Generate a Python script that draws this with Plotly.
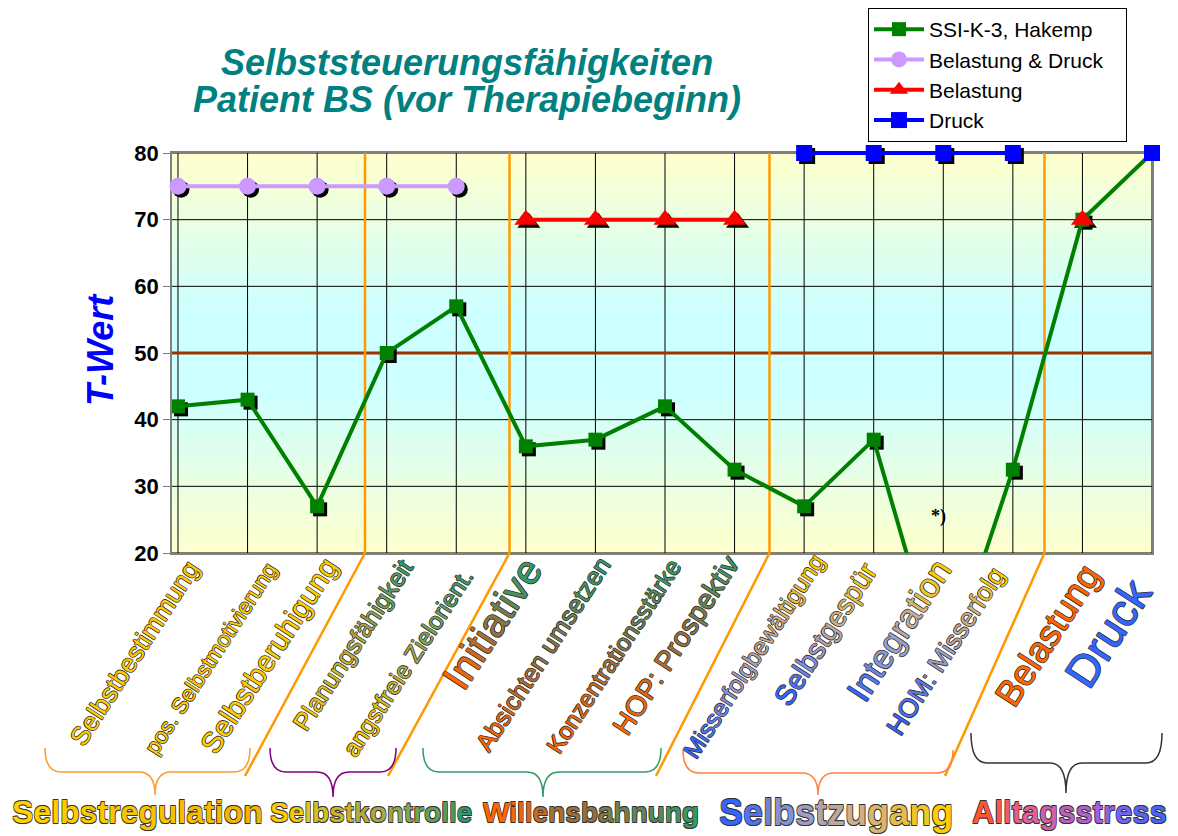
import plotly.graph_objects as go

# ---------------- data ----------------
categories = [
    "Selbstbestimmung", "pos. Selbstmotivierung", "Selbstberuhigung",
    "Planungsfähigkeit", "angstfreie Zielorient.",
    "Initiative", "Absichten umsetzen", "Konzentrationsstärke", "HOP: Prospektiv",
    "Misserfolgbewältigung", "Selbstgespür", "Integration", "HOM: Misserfolg",
    "Belastung", "Druck",
]
ssi_k3 = [42, 43, 27, 50, 57, 36, 37, 42, 32.5, 27, 37, 1, 32.5, 70, 80]
belastung_druck = [75, 75, 75, 75, 75, None, None, None, None, None, None, None, None, None, None]
belastung = [None, None, None, None, None, 70, 70, 70, 70, None, None, None, None, 70, None]
druck = [None, None, None, None, None, None, None, None, None, 80, 80, 80, 80, None, 80]
series_names = ["SSI-K-3, Hakemp", "Belastung & Druck", "Belastung", "Druck"]
y_ticks = [20, 30, 40, 50, 60, 70, 80]
norm_value = 50
groups = ["Selbstregulation", "Selbstkontrolle", "Willensbahnung", "Selbstzugang", "Alltagsstress"]
title_lines = ["Selbststeuerungsfähigkeiten", "Patient BS (vor Therapiebeginn)"]
y_title = "T-Wert"
footnote = "*)"

# ---------------- geometry (screen pixels; page body has an 8px margin) ----------------
OFF = 8
W, H = 1170, 828
ML, MR, MT, MB = 164, 26, 137, 283
PW = W - ML - MR
PH = H - MT - MB
PLOT_TOP, PLOT_BOT = 153, 553          # screen y of plot top / bottom
PLOT_LEFT = ML + OFF


def px_x(px):
    return (px - PLOT_LEFT) / PW


def px_y(py):
    return (PLOT_BOT - py) / PH


idx = list(range(len(categories)))
x_range = [-0.086, len(categories) - 1]
y_range = [y_ticks[0], y_ticks[-1]]
upp_x = (x_range[1] - x_range[0]) / PW
upp_y = (y_range[1] - y_range[0]) / (PLOT_BOT - PLOT_TOP)
y3_range = [y_range[0], y_range[0] + PH * upp_y]
SH = 3
x2_range = [x_range[0] - SH * upp_x, x_range[1] - SH * upp_x]
y2_range = [y3_range[0] + SH * upp_y, y3_range[1] + SH * upp_y]

ARIAL = "Liberation Sans, Arial, Helvetica, sans-serif"
OUTLINE = "-0.6px -0.6px 0 #333, 0.6px -0.6px 0 #333, -0.6px 0.6px 0 #333, 0.6px 0.6px 0 #333"


def hex2rgb(h):
    h = h.lstrip("#")
    return tuple(int(h[i:i + 2], 16) for i in (0, 2, 4))


def mix(c1, c2, t):
    a, b = hex2rgb(c1), hex2rgb(c2)
    return "#%02x%02x%02x" % tuple(round(a[i] + (b[i] - a[i]) * t) for i in range(3))


def stop_color(stops, t):
    if len(stops) == 1:
        return stops[0]
    seg = t * (len(stops) - 1)
    k = min(int(seg), len(stops) - 2)
    return mix(stops[k], stops[k + 1], seg - k)


def grad_text(s, stops):
    n = len(s)
    out = []
    for i, ch in enumerate(s):
        t = i / (n - 1) if n > 1 else 0
        out.append('<span style="color:%s">%s</span>' % (stop_color(stops, t), ch))
    return "".join(out)


fig = go.Figure()

# ---------------- traces ----------------
styles = [
    dict(color="#008000", symbol="square", size=14, clip=True),
    dict(color="#CC99FF", symbol="circle", size=17, clip=False),
    dict(color="#FF0000", symbol="triangle-up", size=20, clip=False),
    dict(color="#0000FF", symbol="square", size=16, clip=False),
]
all_series = [ssi_k3, belastung_druck, belastung, druck]

# drop shadows (same data, drawn on an axis pair offset by a few pixels)
for vals, st in zip(all_series, styles):
    fig.add_trace(go.Scatter(
        x=idx, y=vals, mode="markers", xaxis="x2", yaxis="y2",
        marker=dict(symbol=st["symbol"], size=st["size"], color="black", line=dict(width=0)),
        cliponaxis=st["clip"], showlegend=False, hoverinfo="skip"))

legend_pad = "\u00a0\u00a0\u00a0"
for name, vals, st in zip(series_names, all_series, styles):
    fig.add_trace(go.Scatter(
        x=idx, y=vals, name=name + legend_pad, mode="lines+markers", xaxis="x3", yaxis="y3",
        line=dict(color=st["color"], width=4),
        marker=dict(symbol=st["symbol"], size=st["size"], color=st["color"], line=dict(width=0)),
        cliponaxis=st["clip"], connectgaps=False))

# ---------------- background gradient ----------------
YEL, CYAN = "#FFFFCC", "#CCFFFF"
n_bands = 60
span = y_range[1] - y_range[0]
for k in range(n_bands):
    y0 = y_range[0] + span * k / n_bands
    y1 = y_range[0] + span * (k + 1) / n_bands
    mid = (y0 + y1) / 2
    t = abs(mid - norm_value) / (span / 2)
    f = min(max((t - 0.2) / 0.8, 0), 1)
    fig.add_shape(type="rect", xref="x domain", yref="y", x0=0, x1=1, y0=y0, y1=y1,
                  fillcolor=mix(CYAN, YEL, f), line=dict(width=0), layer="below")

# grid lines
for yv in y_ticks:
    fig.add_shape(type="line", xref="x domain", yref="y", x0=0, x1=1, y0=yv, y1=yv,
                  line=dict(color="black", width=1), layer="below")
for xv in idx:
    fig.add_shape(type="line", xref="x", yref="y domain", x0=xv, x1=xv, y0=0, y1=1,
                  line=dict(color="black", width=1), layer="below")

# norm line at 50
fig.add_shape(type="line", xref="x domain", yref="y", x0=0, x1=1, y0=norm_value, y1=norm_value,
              line=dict(color="#993300", width=3), layer="below")

# orange group separators
separators = [(365, 245), (509.5, 388), (769.5, 656), (1044.5, 945)]
for xt, xb in separators:
    fig.add_shape(type="line", xref="x domain", yref="y domain", x0=px_x(xt), x1=px_x(xt), y0=0, y1=1,
                  line=dict(color="#FF9900", width=2.5), layer="below")
    fig.add_shape(type="line", xref="paper", yref="paper", x0=px_x(xt), y0=px_y(PLOT_BOT),
                  x1=px_x(xb), y1=px_y(776), line=dict(color="#FF9900", width=2.5))


# braces
def brace_path(x0, x1, xt, ytop, ymid, ytip, r=16):
    P = lambda x, y: "%.5f,%.5f" % (px_x(x), px_y(y))
    return ("M %s Q %s %s L %s Q %s %s Q %s %s L %s Q %s %s" % (
        P(x0, ytop), P(x0, ymid), P(x0 + r, ymid), P(xt - r, ymid), P(xt, ymid), P(xt, ytip),
        P(xt, ymid), P(xt + r, ymid), P(x1 - r, ymid), P(x1, ymid), P(x1, ytop)))


braces = [
    (45, 250, 155, 748, 772, 795, "#FF9933"),
    (270, 396, 333, 748, 772, 797, "#800080"),
    (423, 661, 543, 748, 772, 797, "#339966"),
    (683, 953, 818, 750, 773, 795, "#FF8040"),
    (971, 1162, 1066, 733, 763, 793, "#333333"),
]
for x0, x1, xt, yt, ym, yp, col in braces:
    fig.add_shape(type="path", xref="paper", yref="paper", path=brace_path(x0, x1, xt, yt, ym, yp),
                  line=dict(color=col, width=1.5))

# ---------------- annotations ----------------
ann = []
GOLD = ["#FFCC00"]
G_OL = ["#FFCC00", "#A8A848", "#339966"]
O_GR = ["#FF6600", "#96703C", "#339966"]
B_GO = ["#3366FF", "#9999CC", "#D2B084", "#FFCC00"]
label_styles = [
    (26, 30, 552, GOLD),
    (22, 37, 555, GOLD),
    (29, 30, 549, GOLD),
    (25, 34, 552, G_OL),
    (24, 25, 561, G_OL),
    (40, 28, 547, O_GR),
    (25, 23, 549, O_GR),
    (24, 25, 551, O_GR),
    (28, 13, 547, O_GR),
    (24, 29, 546, B_GO),
    (28, 13, 554, B_GO),
    (34, 18, 549, B_GO),
    (26, 1, 559, B_GO),
    (36, 28, 554, ["#FF6600"]),
    (45, 12, 567, ["#3366FF"]),
]
for i, (cat, (sz, xs, ty, cols)) in enumerate(zip(categories, label_styles)):
    ann.append(dict(text=grad_text(cat, cols), x=i, xref="x", xshift=xs, y=px_y(ty), yref="paper",
                    xanchor="right", yanchor="top", textangle=-57, showarrow=False,
                    font=dict(family=ARIAL, size=sz, shadow=OUTLINE)))

group_styles = [
    (137, 32, ["#FFD200", "#F2B400"]),
    (371, 28, ["#FFCC00", "#A8A848", "#339966"]),
    (591, 28, ["#FF6600", "#96703C", "#339966"]),
    (836, 36, ["#3366FF", "#9999CC", "#D2B084", "#FFCC00"]),
    (1069, 31, ["#FF5533", "#E0609A", "#A060E0", "#4466FF"]),
]
for g, (cx, sz, cols) in zip(groups, group_styles):
    ann.append(dict(text=grad_text(g, cols), x=px_x(cx), y=px_y(812), xref="paper", yref="paper",
                    xanchor="center", yanchor="middle", showarrow=False,
                    font=dict(family=ARIAL, size=sz, weight="bold", shadow=OUTLINE)))

for line, cy in zip(title_lines, [62, 100]):
    ann.append(dict(text=line, x=px_x(467), y=px_y(cy), xref="paper", yref="paper",
                    xanchor="center", yanchor="middle", showarrow=False,
                    font=dict(family=ARIAL, size=36, color="#008080", weight="bold", style="italic")))

ann.append(dict(text=y_title, x=px_x(100), y=px_y(350), xref="paper", yref="paper", textangle=-90,
                xanchor="center", yanchor="middle", showarrow=False,
                font=dict(family=ARIAL, size=36, color="#0000FF", weight="bold", style="italic")))
ann.append(dict(text=footnote, x=px_x(938), y=px_y(516), xref="paper", yref="paper",
                xanchor="center", yanchor="middle", showarrow=False,
                font=dict(family="Liberation Serif, Times New Roman, serif", size=18, color="black",
                          weight="bold")))

fig.update_layout(
    width=W, height=H, margin=dict(l=ML, r=MR, t=MT, b=MB, pad=0, autoexpand=False),
    paper_bgcolor="white", plot_bgcolor="rgba(0,0,0,0)",
    showlegend=True,
    legend=dict(x=px_x(868), y=px_y(8), xanchor="left", yanchor="top", bgcolor="white",
                bordercolor="black", borderwidth=1, itemwidth=50, tracegroupgap=0,
                font=dict(family=ARIAL, size=21, color="black")),
    xaxis=dict(domain=[0, 1], range=x_range, tickvals=idx, showticklabels=False, ticks="",
               showgrid=False, zeroline=False,
               showline=True, linecolor="#808080", linewidth=1.5, mirror=True, anchor="y"),
    yaxis=dict(domain=[0, (PLOT_BOT - PLOT_TOP) / PH], range=y_range, tickvals=y_ticks,
               showgrid=False, zeroline=False,
               showline=True, linecolor="#808080", linewidth=1.5, mirror=True,
               ticks="outside", ticklen=7, tickcolor="#808080",
               tickfont=dict(family=ARIAL, size=22, color="black", weight="bold"), anchor="x"),
    xaxis2=dict(domain=[0, 1], range=x2_range, visible=False, anchor="y2"),
    yaxis2=dict(domain=[0, 1], range=y2_range, visible=False, anchor="x2"),
    xaxis3=dict(domain=[0, 1], range=x_range, visible=False, anchor="y3"),
    yaxis3=dict(domain=[0, 1], range=y3_range, visible=False, anchor="x3"),
    annotations=ann,
)

fig.write_html("out.html")
